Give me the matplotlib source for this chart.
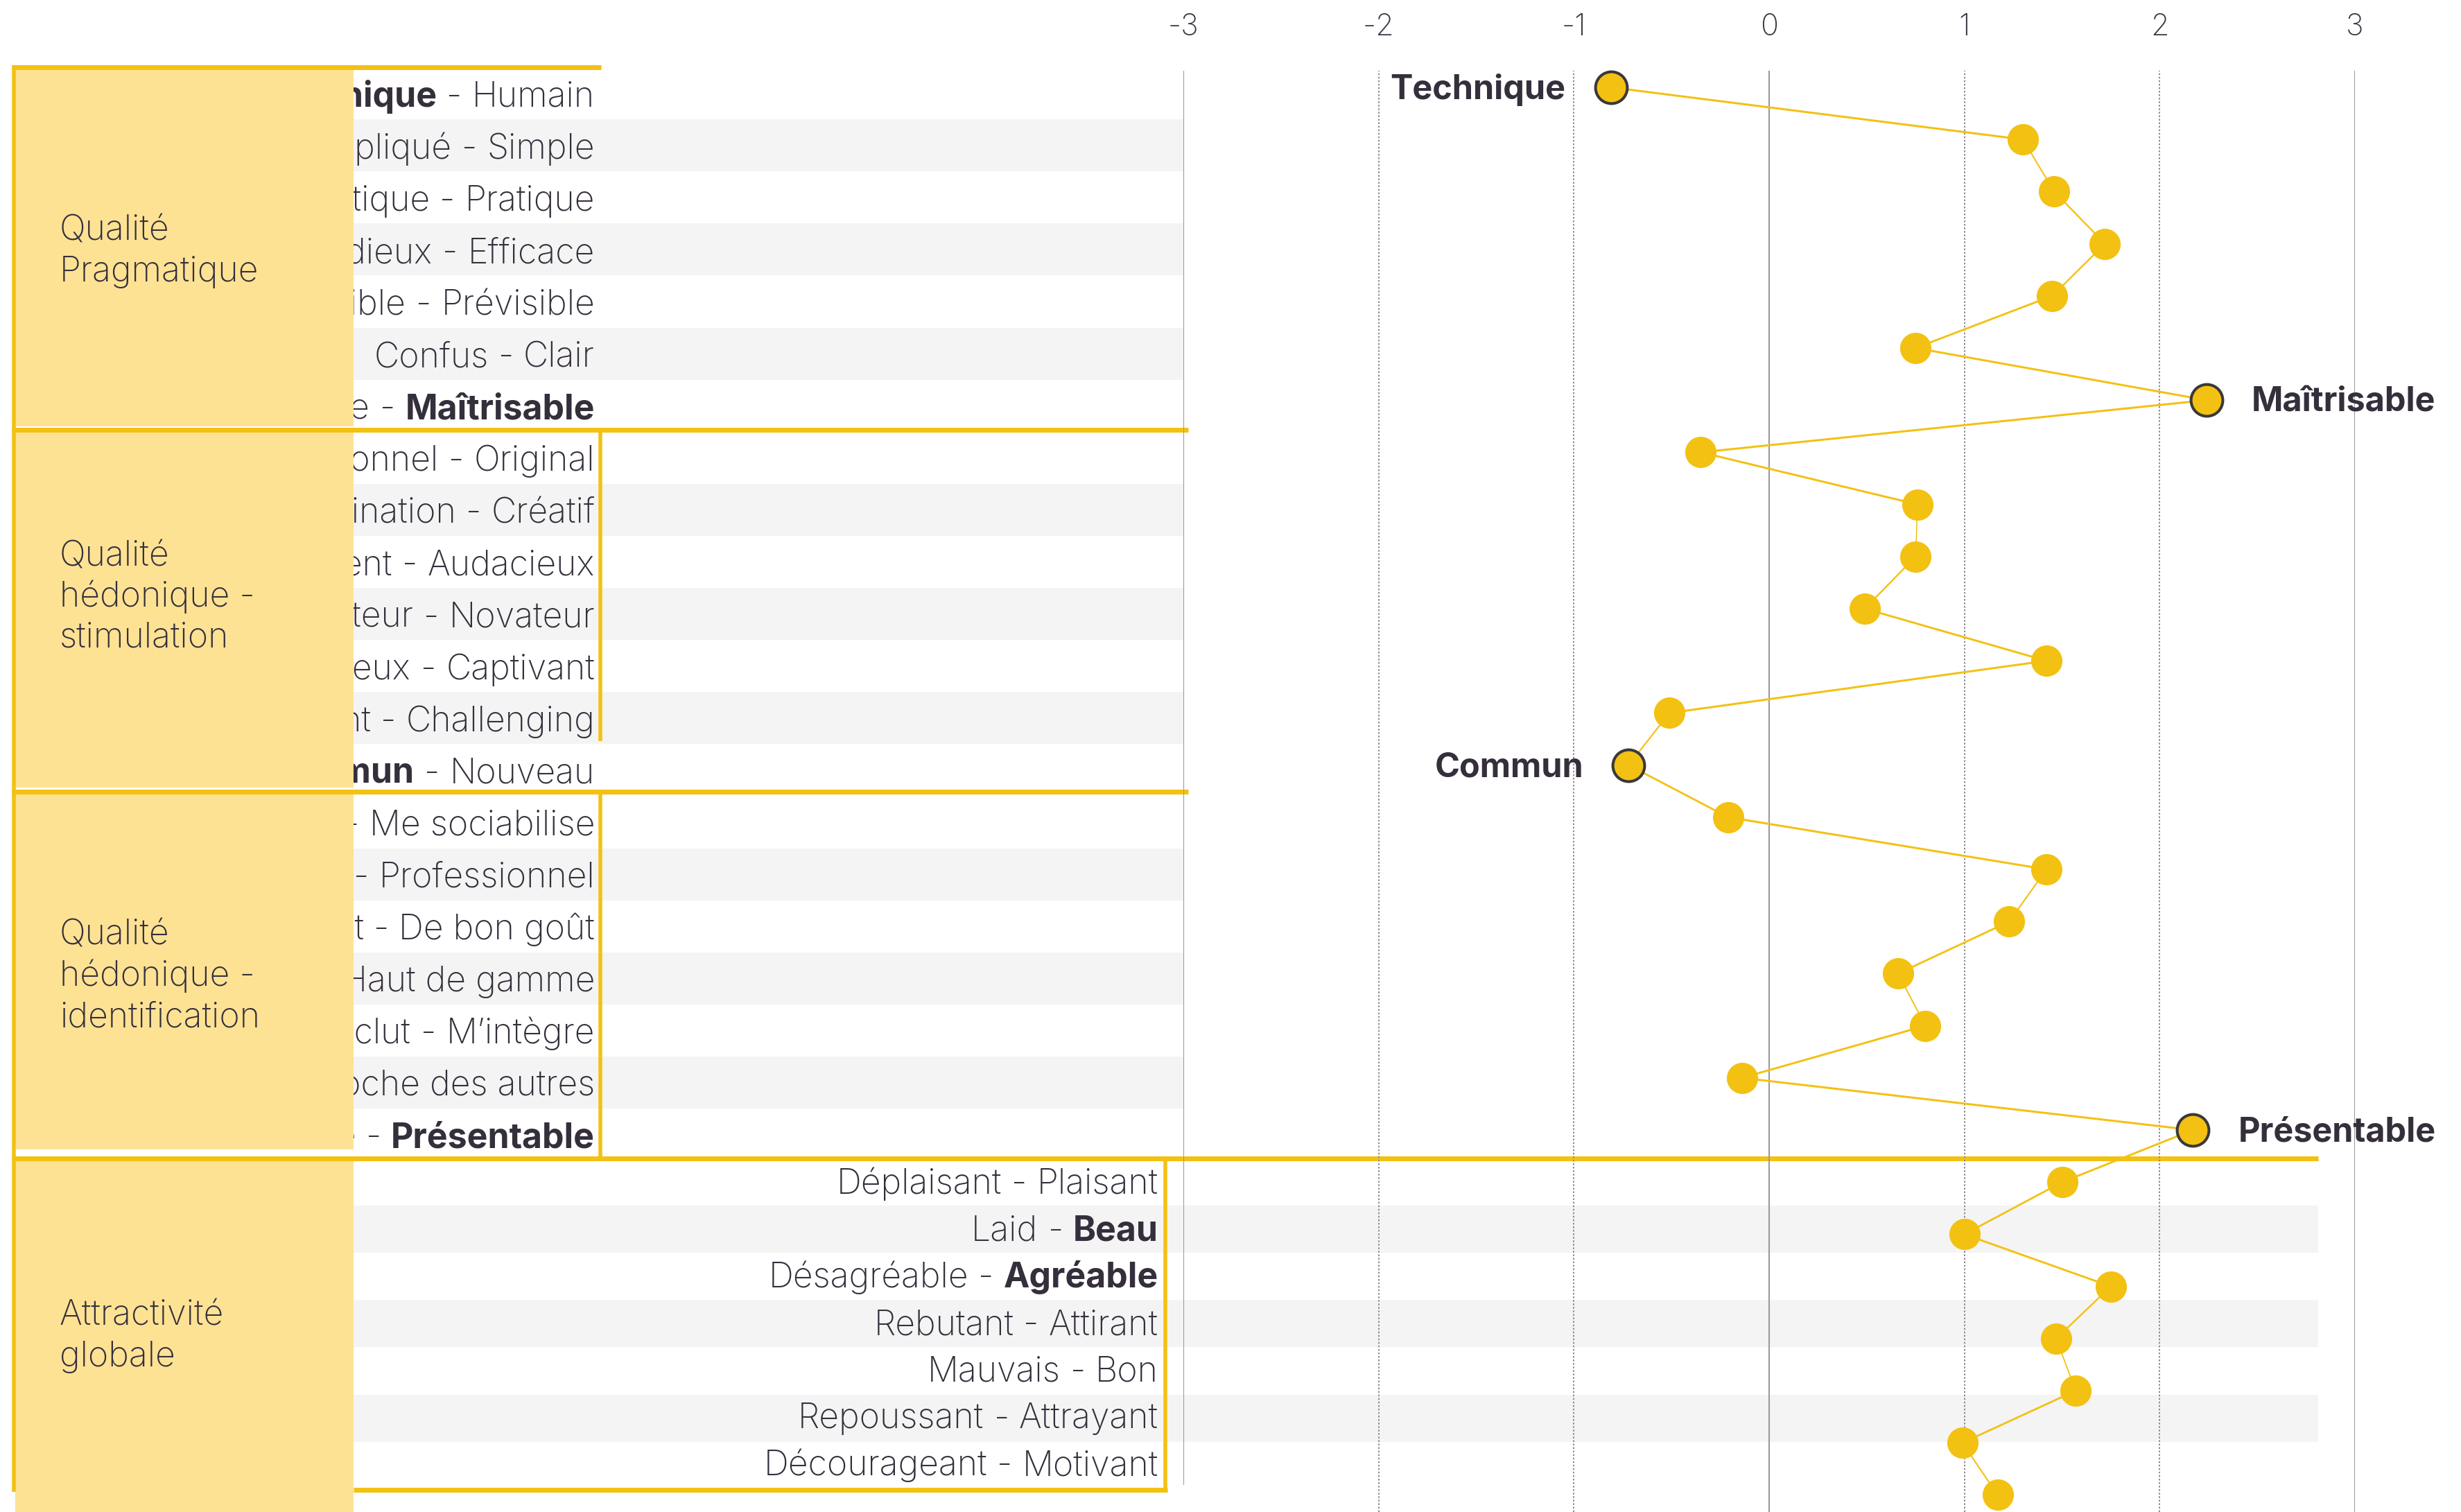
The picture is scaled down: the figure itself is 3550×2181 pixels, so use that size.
import matplotlib
matplotlib.use("Agg")
import numpy as np
import matplotlib.pyplot as plt
from matplotlib.patches import Rectangle
from matplotlib.transforms import Bbox
from matplotlib.collections import LineCollection

# ---------------- data ----------------
group_labels = [["Qualité", "Pragmatique"],
                ["Qualité", "hédonique -", "stimulation"],
                ["Qualité", "hédonique -", "identification"],
                ["Attractivité", "globale"]]
left_words = ["Technique", "Compliqué", "Pas pratique", "Fastidieux", "Imprévisible", "Confus", "Incontrôlable",
              "Conventionnel", "Sans imagination", "Prudent", "Conservateur", "Ennuyeux", "Peu exigeant", "Commun",
              "M’isole", "Amateur", "De mauvais goût", "Bas de gamme", "M’exclut", "Me sépare des autres",
              "Non présentable",
              "Déplaisant", "Laid", "Désagréable", "Rebutant", "Mauvais", "Repoussant", "Décourageant"]
right_words = ["Humain", "Simple", "Pratique", "Efficace", "Prévisible", "Clair", "Maîtrisable",
               "Original", "Créatif", "Audacieux", "Novateur", "Captivant", "Challenging", "Nouveau",
               "Me sociabilise", "Professionnel", "De bon goût", "Haut de gamme", "M’intègre",
               "Me rapproche des autres", "Présentable",
               "Plaisant", "Beau", "Agréable", "Attirant", "Bon", "Attrayant", "Motivant"]
bold_left = [0, 13]
bold_right = [6, 20, 22, 23]
values = [-0.81, 1.30, 1.46, 1.72, 1.45, 0.75, 2.24,
          -0.35, 0.76, 0.75, 0.49, 1.42, -0.51, -0.72,
          -0.21, 1.42, 1.23, 0.66, 0.80, -0.14, 2.17,
          1.50, 1.00, 1.75, 1.47, 1.57, 0.99, 1.17]
highlight = [0, 6, 13, 20]
highlight_side = ["left", "right", "left", "right"]
x_ticks = [-3, -2, -1, 0, 1, 2, 3]
x_tick_labels = ["-3", "-2", "-1", "0", "1", "2", "3"]

# ---------------- style ----------------
W, H, DPI = 3550, 2181, 100
YEL = "#f3c112"
FILL = "#fde294"
BAND = "#f4f4f4"
TXT = "#352f3c"
FONT = ["Inter", "DejaVu Sans"]
FS = 36
plt.rcParams["font.family"] = FONT

fig = plt.figure(figsize=(W / DPI, H / DPI), dpi=DPI)
fig.patch.set_facecolor("white")
lay = fig.add_axes([0, 0, 1, 1], zorder=0)
lay.set_xlim(0, W)
lay.set_ylim(H, 0)
lay.axis("off")
renderer = fig.canvas.get_renderer()

# layout constants (pixels)
ROW_TOP, ROW_H = 97, 75.1
G4_TOP, G4_H = 1671, 68.1
BOX_L, BOX_R = 22, 510
GRID_L = 1707
clip = Bbox([[BOX_R, 0], [W, H]])

# alternating bands
for r in range(21):
    if r % 7 in (1, 3, 5):
        lay.add_patch(Rectangle((BOX_L, ROW_TOP + ROW_H * r), GRID_L - BOX_L, ROW_H,
                                facecolor=BAND, edgecolor="none", zorder=0))
for k in range(7):
    if k in (1, 3, 5):
        lay.add_patch(Rectangle((BOX_R, G4_TOP + G4_H * k), 3344 - BOX_R, G4_H,
                                facecolor=BAND, edgecolor="none", zorder=0))


def width_of(s, weight):
    t = lay.text(0, 0, s, fontsize=FS, fontweight=weight)
    w = t.get_window_extent(renderer).width
    t.remove()
    return w


SPACE = width_of("n n", "light") - width_of("nn", "light")


def draw_pair(xr, yb, left, right, lb, rb):
    parts = [(right, "bold" if rb else "light"), ("-", "light"), (left, "bold" if lb else "light")]
    x = xr
    for s, wgt in parts:
        t = lay.text(x, yb, s, ha="right", va="baseline", fontsize=FS, fontweight=wgt,
                     color=TXT, zorder=2)
        t.set_clip_box(clip)
        t.set_clip_on(True)
        x -= t.get_window_extent(renderer).width + SPACE


for i in range(28):
    if i < 21:
        xr, yb = 858, 154 + 75.05 * i
    else:
        xr, yb = 1671, 1722 + 67.7 * (i - 21)
    draw_pair(xr, yb, left_words[i], right_words[i], i in bold_left, i in bold_right)

# yellow group fills
fills = [(100, 615), (623, 1136), (1145, 1658), (1671, H)]
for (y0, y1) in fills:
    lay.add_patch(Rectangle((BOX_L, y0), BOX_R - BOX_L, y1 - y0, facecolor=FILL,
                            edgecolor="none", zorder=3))

# group labels
first_base = [347, 816, 1363, 1912]
for g, lines in enumerate(group_labels):
    for j, s in enumerate(lines):
        lay.text(86, first_base[g] + 59 * j, s, ha="left", va="baseline", fontsize=FS,
                 fontweight="light", color=TXT, zorder=4)

# yellow frame lines
LW = 7 * 72 / DPI
segs = [((17, 97), (867, 97)),
        ((19.5, 94), (19.5, 2152)),
        ((17, 619.5), (1714, 619.5)),
        ((865.5, 619.5), (865.5, 1069)),
        ((17, 1141.5), (1714, 1141.5)),
        ((865.5, 1141.5), (865.5, 1670.5)),
        ((17, 1670.5), (3344, 1670.5)),
        ((1680.5, 1670.5), (1680.5, 2152)),
        ((510, 2148.5), (1684, 2148.5))]
for (a, b) in segs:
    lw = LW if a[1] == b[1] else 5.5 * 72 / DPI
    lay.plot([a[0], b[0]], [a[1], b[1]], color=YEL, lw=lw, solid_capstyle="butt", zorder=5)

# ---------------- data axes ----------------
TOP_PX, Y0_PX, DY_PX = 102, 126, 75.2
ax = fig.add_axes([GRID_L / W, 0, (3397 - GRID_L) / W, (H - TOP_PX) / H], zorder=1)
ax.set_xlim(-3, 3)
ax.set_ylim((H - Y0_PX) / DY_PX, (TOP_PX - Y0_PX) / DY_PX)
ax.patch.set_visible(False)
for s in ax.spines.values():
    s.set_visible(False)
ax.xaxis.tick_top()
ax.set_xticks(x_ticks)
ax.set_xticklabels(x_tick_labels)
ax.set_yticks([])
ax.tick_params(axis="x", length=0, pad=30, labelsize=31, labelcolor="#3b3642")
for lab in ax.get_xticklabels():
    lab.set_fontweight("light")

for xt in x_ticks:
    if xt in (-3, 0, 3):
        ymin = (H - 2141) / (H - TOP_PX) if xt == -3 else 0
        ax.axvline(xt, ymin=ymin, ymax=1, color="#9a9a9a", lw=1.5, zorder=1)
    else:
        ax.axvline(xt, ymin=0, ymax=1, color="#8c8c8c", lw=1.4, ls=(0, (1.3, 1.3)), zorder=1)

ys = np.arange(len(values))
pts = np.column_stack([values, ys])
segments = [pts[k:k + 2] for k in range(len(pts) - 1)]
# stroke looks thicker on flat segments, thinner on steep ones
pix = ax.transData.transform(pts)
widths = []
for k in range(len(pts) - 1):
    d = pix[k + 1] - pix[k]
    v = d / np.hypot(*d)
    widths.append(np.sqrt((v[0] * 3.0) ** 2 + (v[1] * 1.5) ** 2) * 72 / DPI)
ax.add_collection(LineCollection(segments, colors=YEL, linewidths=widths, zorder=3,
                                 clip_on=False, capstyle="round"))
ax.plot(values, ys, ls="none", marker="o", ms=32.5, mfc=YEL, mec="none", zorder=4, clip_on=False)
ax.plot([values[i] for i in highlight], highlight, ls="none", marker="o", ms=33, mfc=YEL,
        mec="#3a3838", mew=2.9, zorder=5, clip_on=False)
for i, side in zip(highlight, highlight_side):
    txt = left_words[i] if side == "left" else right_words[i]
    dx = -47 if side == "left" else 47
    ax.annotate(txt, xy=(values[i], i), xytext=(dx, -12), textcoords="offset points",
                ha="right" if side == "left" else "left", va="baseline", fontsize=35,
                fontweight="bold", color=TXT, zorder=6, annotation_clip=False)

fig.savefig("out.png", dpi=DPI, facecolor="white")
